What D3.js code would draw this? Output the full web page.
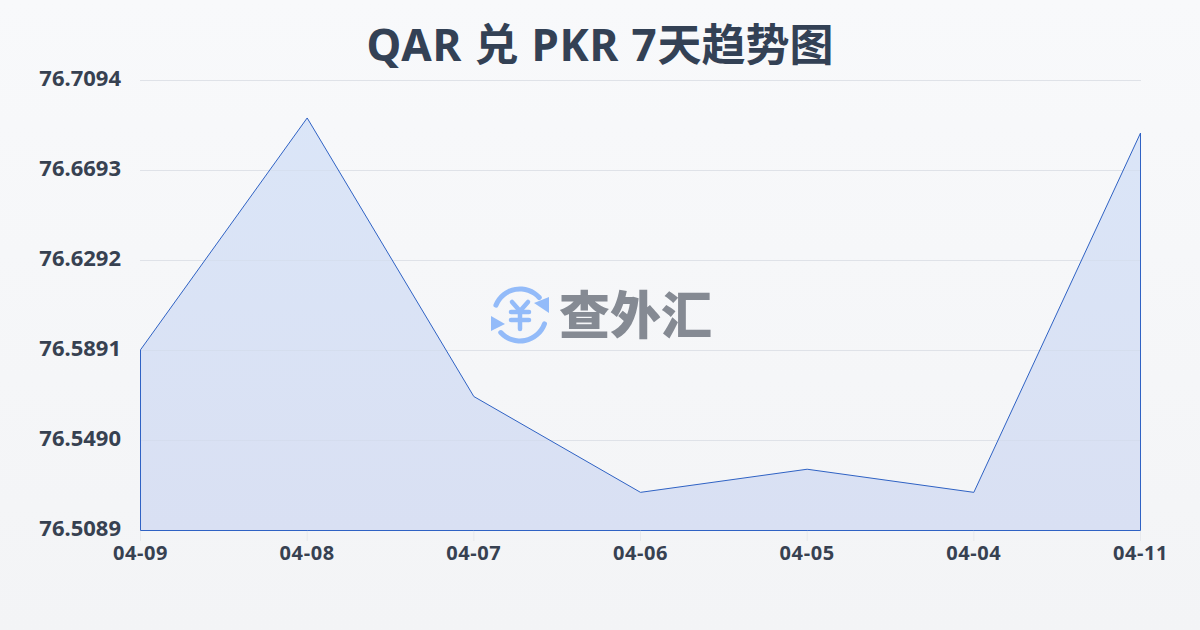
<!DOCTYPE html>
<html><head><meta charset="utf-8">
<script src="https://cdn.jsdelivr.net/npm/d3@7/dist/d3.min.js"></script>
<style>html,body{margin:0;padding:0;width:1200px;height:630px;overflow:hidden}svg{display:block}</style>
</head><body><div id="c"></div>
<script>
const titleLatin = "QAR 兑 PKR 7";
const titleCjk = "天趋势图";
const dates = ["04-09","04-08","04-07","04-06","04-05","04-04","04-11"];
const rates = [76.5894,76.6927,76.5686,76.5259,76.5362,76.5259,76.6860];
const yTicks = [76.5089,76.5490,76.5891,76.6292,76.6693,76.7094];
const brand = "查外汇";
const W=1200,H=630,font='"Noto Sans","Noto Sans CJK SC",sans-serif',cjk='"Noto Sans CJK SC",sans-serif';
const svg=d3.select("#c").append("svg").attr("width",W).attr("height",H);
const defs=svg.append("defs");
const bg=defs.append("linearGradient").attr("id","bg").attr("x1",0).attr("y1",0).attr("x2",0).attr("y2",1);
bg.append("stop").attr("offset",0).attr("stop-color","#f8f9fb");
bg.append("stop").attr("offset",1).attr("stop-color","#f3f4f6");
svg.append("rect").attr("width",W).attr("height",H).attr("fill","url(#bg)");
const ag=defs.append("linearGradient").attr("id","ag").attr("gradientUnits","userSpaceOnUse").attr("x1",0).attr("y1",80).attr("x2",0).attr("y2",530);
ag.append("stop").attr("offset",0).attr("stop-color","#dbe6f8");
ag.append("stop").attr("offset",1).attr("stop-color","#d9e0f3");
const x=d3.scalePoint().domain(dates).range([140.5,1140.5]);
const y=d3.scaleLinear().domain([76.5089,76.7094]).range([530.5,80.5]);
const col="#e7e9ed";
svg.append("g").selectAll("line").data(yTicks.slice(1)).join("line")
 .attr("x1",140).attr("x2",1141).attr("y1",d=>y(d)).attr("y2",d=>y(d)).attr("stroke",col);
svg.append("g").selectAll("line").data(dates).join("line")
 .attr("x1",d=>x(d)).attr("x2",d=>x(d)).attr("y1",530).attr("y2",541).attr("stroke",col);
const pts=dates.map((d,i)=>[d,rates[i]]);
const area=d3.area().x(d=>x(d[0])).y0(y(76.5089)).y1(d=>y(d[1]));
svg.append("path").datum(pts).attr("d",area).attr("fill","url(#ag)").attr("stroke","none");
svg.append("g").selectAll("line").data(yTicks.slice(1)).join("line")
 .attr("x1",140).attr("x2",1141).attr("y1",d=>y(d)).attr("y2",d=>y(d)).attr("stroke","#c8cfdc").attr("stroke-opacity",0.25);
svg.append("path").datum(pts).attr("d",d=>area(d)+"").attr("fill","none").attr("stroke","#2f62c4").attr("stroke-width",1);
const t=svg.append("text").attr("x",600).attr("y",61).attr("text-anchor","middle").attr("font-family",font).attr("font-weight",700).attr("font-size",44).attr("fill","#334155");
t.append("tspan").attr("letter-spacing",0.8).text(titleLatin);
t.append("tspan").text(titleCjk);
svg.append("g").selectAll("text").data(yTicks).join("text").attr("x",121).attr("y",d=>y(d)-2).attr("dy","0.35em").attr("text-anchor","end")
 .attr("font-family",font).attr("font-weight",700).attr("font-size",22).attr("fill","#374151").text(d=>d.toFixed(4));
svg.append("g").selectAll("text").data(dates).join("text").attr("x",d=>x(d)).attr("y",560).attr("text-anchor","middle")
 .attr("font-family",font).attr("font-weight",700).attr("font-size",20).attr("letter-spacing",0.6).attr("fill","#374151").text(d=>d);
// watermark
const wm=svg.append("g");
const blue="#93bbf9";
const r=26,cx=520,cy=315;
const arc=d3.arc().innerRadius(r-2.5).outerRadius(r+2.5).cornerRadius(2.5);
const a1=wm.append("g").attr("transform",`translate(${cx},${cy})`);
a1.append("path").attr("d",arc({startAngle:-1.28,endAngle:0.93})).attr("fill",blue);
a1.append("path").attr("d",arc({startAngle:1.82,endAngle:4.07})).attr("fill",blue);
a1.append("path").attr("d",d3.line()([[14,-12],[29,-18],[29,-2]])).attr("fill",blue);
a1.append("path").attr("d",d3.line()([[-29,1],[-29,16],[-15,9]])).attr("fill",blue);
const yen=a1.append("g").attr("stroke",blue).attr("stroke-width",4.5).attr("stroke-linecap","round").attr("fill","none");
yen.append("path").attr("d",d3.line()([[-8,-13],[0,-4],[8,-13]]));
yen.append("path").attr("d",d3.line()([[0,-4],[0,14]]));
yen.append("path").attr("d",d3.line()([[-9,-3],[9,-3]]));
yen.append("path").attr("d",d3.line()([[-9,5],[9,5]]));
wm.append("text").attr("x",559).attr("y",334).attr("font-family",cjk).attr("font-weight",900).attr("font-size",51).attr("fill","#858a93").text(brand);
</script></body></html>
